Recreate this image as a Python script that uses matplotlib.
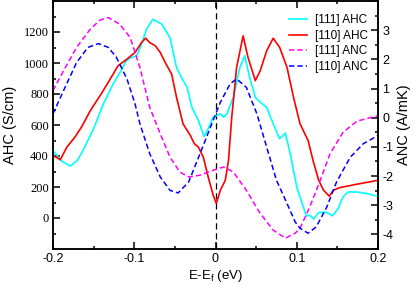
import matplotlib
matplotlib.use("Agg")
import matplotlib.pyplot as plt
from matplotlib.ticker import MultipleLocator

# [111] AHC (S/cm)
e_ahc111 = [-0.200, -0.190, -0.179, -0.170, -0.163, -0.150, -0.138, -0.126, -0.115, -0.110,
            -0.105, -0.097, -0.091, -0.085, -0.077, -0.066, -0.056, -0.048, -0.042, -0.035,
            -0.029, -0.021, -0.014, -0.009, -0.003, 0.006, 0.010, 0.014, 0.022, 0.030,
            0.036, 0.042, 0.049, 0.055, 0.063, 0.071, 0.079, 0.086, 0.092, 0.100,
            0.108, 0.112, 0.116, 0.121, 0.127, 0.137, 0.144, 0.151, 0.157, 0.163,
            0.174, 0.186, 0.200]
ahc111 = [436, 370, 335, 372, 436, 576, 736, 865, 961, 1015,
          1032, 1047, 1122, 1218, 1282, 1250, 1164, 972, 907, 843,
          714, 629, 526, 576, 650, 672, 650, 672, 779, 972,
          1047, 907, 779, 747, 714, 608, 511, 547, 415, 200,
          72, 12, 18, -7, 36, 36, 14, 62, 136, 168,
          168, 158, 140]

# [110] AHC (S/cm)
e_ahc110 = [-0.200, -0.191, -0.183, -0.173, -0.165, -0.154, -0.142, -0.132, -0.120, -0.109,
            -0.099, -0.091, -0.086, -0.081, -0.074, -0.068, -0.062, -0.054, -0.048, -0.040,
            -0.031, -0.026, -0.021, -0.015, -0.009, -0.003, 0.001, 0.006, 0.012, 0.016,
            0.020, 0.026, 0.034, 0.040, 0.049, 0.055, 0.063, 0.071, 0.079, 0.088,
            0.096, 0.104, 0.110, 0.114, 0.120, 0.127, 0.133, 0.140, 0.145, 0.153,
            0.174, 0.200]
ahc110 = [404, 376, 457, 522, 586, 693, 790, 875, 982, 1025,
          1068, 1132, 1160, 1132, 1111, 1068, 1004, 929, 779, 608,
          533, 479, 457, 393, 265, 150, 94, 179, 243, 372,
          650, 972, 1175, 1036, 886, 950, 1079, 1160, 1100, 972,
          779, 608, 543, 500, 372, 243, 179, 141, 179, 196,
          218, 243]

# [111] ANC (A/mK)
e_anc111 = [-0.200, -0.187, -0.171, -0.154, -0.142, -0.132, -0.118, -0.105, -0.093, -0.081,
            -0.068, -0.056, -0.044, -0.033, -0.019, -0.003, 0.010, 0.022, 0.038, 0.055,
            0.071, 0.086, 0.098, 0.104, 0.116, 0.129, 0.141, 0.157, 0.174, 0.200]
anc111 = [0.93, 1.61, 2.41, 3.04, 3.35, 3.43, 3.21, 2.75, 1.72, 0.36,
          -0.55, -1.35, -1.86, -2.03, -1.97, -1.80, -1.69, -1.86, -2.49, -3.28,
          -3.85, -4.13, -3.96, -3.79, -3.06, -2.14, -1.23, -0.50, -0.12, 0.07]

# [110] ANC (A/mK)
e_anc110 = [-0.200, -0.187, -0.171, -0.157, -0.144, -0.132, -0.122, -0.109, -0.099, -0.093,
            -0.081, -0.068, -0.056, -0.046, -0.033, -0.019, -0.007, 0.006, 0.018, 0.026,
            0.038, 0.051, 0.063, 0.075, 0.088, 0.098, 0.104, 0.114, 0.124, 0.137,
            0.149, 0.166, 0.182, 0.200]
anc110 = [0.13, 0.93, 1.89, 2.41, 2.54, 2.41, 2.07, 1.33, 0.47, -0.21,
          -1.23, -2.03, -2.49, -2.58, -2.20, -1.23, -0.38, 0.53, 1.16, 1.33,
          1.04, 0.13, -1.01, -2.14, -2.94, -3.57, -3.79, -3.96, -3.74, -3.06,
          -2.20, -1.35, -0.89, -0.61]

sans = "Liberation Sans"
serif = "Liberation Serif"
dash = (3.5, 2.0)

fig = plt.figure(figsize=(4.15, 2.85), dpi=100)
ax = fig.add_axes([53 / 415, 36 / 285, 325 / 415, 248 / 285])
ax2 = ax.twinx()

l1, = ax.plot(e_ahc111, ahc111, color="#00ffff", lw=1.2, label="[111] AHC", zorder=3)
l2, = ax.plot(e_ahc110, ahc110, color="#ff0000", lw=1.2, label="[110] AHC", zorder=4)
l3, = ax2.plot(e_anc111, anc111, color="#ff00ff", lw=1.1, dashes=dash, label="[111] ANC")
l4, = ax2.plot(e_anc110, anc110, color="#0000ff", lw=1.1, dashes=dash, label="[110] ANC")
ax.axvline(0, color="black", lw=0.9, dashes=(5, 3), zorder=2)

ax.set_xlim(-0.2, 0.2)
ax.set_ylim(-200, 1400)
ax2.set_ylim(-4.5, 4.0)

ax.xaxis.set_major_locator(MultipleLocator(0.1))
ax.xaxis.set_minor_locator(MultipleLocator(0.05))
ax.yaxis.set_major_locator(MultipleLocator(200))
ax.yaxis.set_minor_locator(MultipleLocator(100))
ax2.yaxis.set_major_locator(MultipleLocator(1))
ax2.yaxis.set_minor_locator(MultipleLocator(0.5))

ax.set_xticks([-0.2, -0.1, 0, 0.1, 0.2])
ax.set_xticklabels(["-0.2", "-0.1", "0", "0.1", "0.2"], family=sans, fontsize=9)
ax.set_yticks([0, 200, 400, 600, 800, 1000, 1200])
ax.set_yticklabels(["0", "200", "400", "600", "800", "1000", "1200"], family=serif, fontsize=9)
ax2.set_yticks([-4, -3, -2, -1, 0, 1, 2, 3])
ax2.set_yticklabels(["-4", "-3", "-2", "-1", "0", "1", "2", "3"], family=sans, fontsize=9)

ax.tick_params(which="both", direction="in", top=True, width=1.1)
ax.tick_params(which="major", length=5, pad=3)
ax.tick_params(which="minor", length=2.5)
ax.tick_params(axis="y", right=False)
ax2.tick_params(which="both", direction="in", width=1.1)
ax2.tick_params(which="major", length=5, pad=3)
ax2.tick_params(which="minor", length=2.5)

for a in (ax, ax2):
    for s in a.spines.values():
        s.set_linewidth(1.1)

ax.set_xlabel("E-E$_\\mathregular{f}$ (eV)", family=sans, fontsize=9.5, labelpad=2)
ax.set_ylabel("AHC (S/cm)", family=sans, fontsize=10.5, labelpad=5)
ax2.set_ylabel("ANC (A/mK)", family=sans, fontsize=10.5, labelpad=3)

ax.legend([l1, l2, l3, l4], [h.get_label() for h in (l1, l2, l3, l4)],
          loc="upper right", bbox_to_anchor=(0.99, 0.975), frameon=False,
          prop={"family": sans, "size": 8.5}, handlelength=1.6,
          handletextpad=0.6, labelspacing=0.3, borderaxespad=0.2)

fig.savefig("out.png", dpi=100)
